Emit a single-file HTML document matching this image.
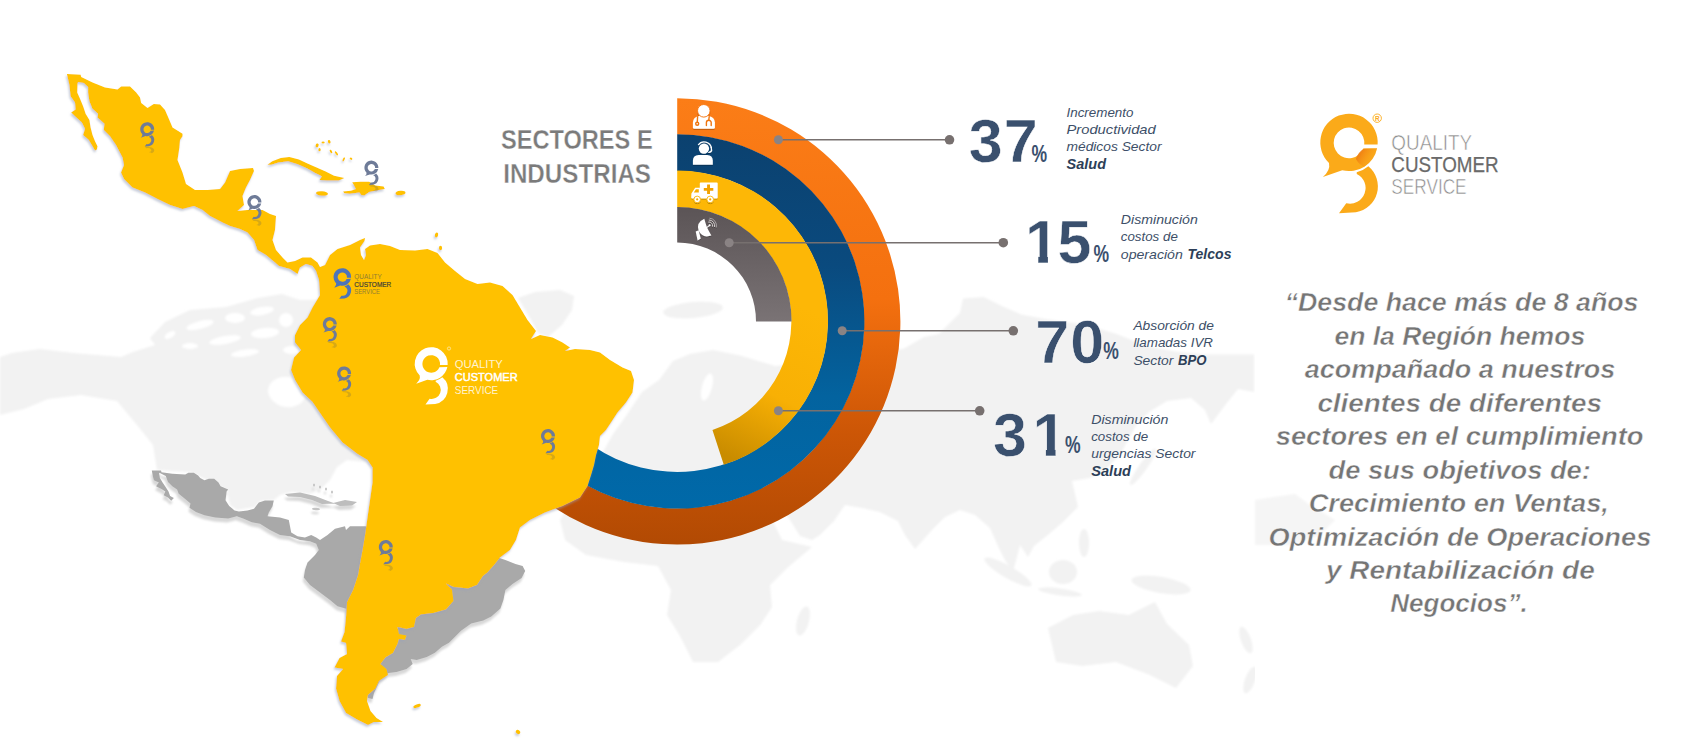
<!DOCTYPE html>
<html lang="es"><head><meta charset="utf-8"><title>Sectores e Industrias - Quality Customer Service</title>
<style>html,body{margin:0;padding:0;background:#fff;}body{width:1683px;height:744px;overflow:hidden;}svg{display:block;font-family:"Liberation Sans",sans-serif;}</style></head><body>
<svg width="1683" height="744" viewBox="0 0 1683 744">
<defs>
<linearGradient id="gOrange" x1="0" y1="98" x2="0" y2="545" gradientUnits="userSpaceOnUse">
<stop offset="0" stop-color="#fb7d17"/><stop offset="0.45" stop-color="#f4700f"/><stop offset="0.75" stop-color="#cc5606"/><stop offset="1" stop-color="#b24a03"/></linearGradient>
<linearGradient id="gBlue" x1="0" y1="135" x2="0" y2="508" gradientUnits="userSpaceOnUse">
<stop offset="0" stop-color="#0b416f"/><stop offset="0.35" stop-color="#0a4a7e"/><stop offset="0.7" stop-color="#03639f"/><stop offset="1" stop-color="#0069a9"/></linearGradient>
<linearGradient id="gYellow" x1="790" y1="300" x2="715" y2="450" gradientUnits="userSpaceOnUse">
<stop offset="0" stop-color="#fdb706"/><stop offset="0.55" stop-color="#f8b004"/><stop offset="1" stop-color="#c98c00"/></linearGradient>
<linearGradient id="gGray" x1="0" y1="207" x2="0" y2="322" gradientUnits="userSpaceOnUse">
<stop offset="0" stop-color="#5b5456"/><stop offset="1" stop-color="#7a7375"/></linearGradient>
<linearGradient id="gDark" x1="300" y1="300" x2="400" y2="360" gradientUnits="userSpaceOnUse">
<stop offset="0" stop-color="#ef7d12"/><stop offset="1" stop-color="#f9a51a" stop-opacity="0"/></linearGradient>
<filter id="fShadow" x="-5%" y="-5%" width="110%" height="110%"><feGaussianBlur in="SourceAlpha" stdDeviation="0.8"/><feOffset dx="-1.5" dy="2" result="o"/>
<feFlood flood-color="#98a2bb" flood-opacity="0.55"/><feComposite in2="o" operator="in"/><feMerge><feMergeNode/><feMergeNode in="SourceGraphic"/></feMerge></filter>
<filter id="fShadowG" x="-5%" y="-5%" width="110%" height="120%"><feGaussianBlur in="SourceAlpha" stdDeviation="1"/><feOffset dx="-1.5" dy="4" result="o"/>
<feFlood flood-color="#d8d8d8" flood-opacity="1"/><feComposite in2="o" operator="in"/><feMerge><feMergeNode/><feMergeNode in="SourceGraphic"/></feMerge></filter>
<filter id="fBlurS" x="-50%" y="-50%" width="200%" height="200%"><feGaussianBlur stdDeviation="6"/></filter>
<filter id="fBlur"><feGaussianBlur stdDeviation="1.2"/></filter>
<filter id="fIcon" x="-20%" y="-20%" width="140%" height="150%"><feGaussianBlur in="SourceAlpha" stdDeviation="0.6"/><feOffset dx="0" dy="1" result="o"/>
<feFlood flood-color="#000" flood-opacity="0.28"/><feComposite in2="o" operator="in"/><feMerge><feMergeNode/><feMergeNode in="SourceGraphic"/></feMerge></filter>
</defs>
<rect width="1683" height="744" fill="#ffffff"/>
<g fill="#f2f2f2" filter="url(#fBlur)"><path d="M0.0 357.0 L12.0 353.0 L40.0 349.0 L73.0 353.0 L121.0 357.0 L133.0 352.0 L155.0 345.0 L150.0 338.0 L165.0 322.0 L190.0 310.0 L226.0 307.0 L258.0 298.0 L282.0 294.0 L300.0 300.0 L340.0 300.0 L372.0 330.0 L372.0 467.0 L365.0 462.0 L347.0 460.0 L337.0 467.0 L330.0 480.0 L320.0 490.0 L310.0 494.0 L292.0 492.0 L280.0 495.0 L274.0 500.0 L260.0 501.0 L255.0 507.0 L237.0 510.0 L230.0 505.0 L227.0 490.0 L205.0 479.0 L190.0 472.0 L157.0 470.0 L153.0 445.0 L137.0 425.0 L117.0 401.0 L81.0 395.0 L48.0 399.0 L24.0 409.0 L0.0 415.0 Z M518.0 298.0 L535.0 292.0 L560.0 290.0 L574.0 296.0 L572.0 310.0 L562.0 325.0 L548.0 337.0 L538.0 333.0 L530.0 318.0 Z M598.0 472.0 L603.0 452.0 L613.0 434.0 L626.0 416.0 L642.0 392.0 L659.0 380.0 L673.0 361.0 L690.0 354.0 L713.0 350.0 L742.0 356.0 L775.0 366.0 L840.0 360.0 L903.7 348.7 L924.0 337.0 L939.0 334.0 L960.0 313.0 L963.0 298.4 L983.5 297.0 L1004.0 307.0 L1022.0 314.7 L1045.6 319.0 L1087.0 325.0 L1116.5 334.0 L1146.0 345.7 L1175.6 351.6 L1205.0 354.6 L1254.0 354.6 L1254.0 392.0 L1238.0 389.0 L1226.0 404.0 L1211.0 424.0 L1205.0 410.0 L1191.0 398.0 L1167.0 401.0 L1149.0 412.0 L1137.0 424.0 L1128.0 440.0 L1120.0 455.0 L1105.0 470.0 L1090.0 478.0 L1072.0 481.0 L1078.0 507.0 L1063.0 522.0 L1049.0 534.0 L1034.0 546.0 L1028.0 557.0 L1020.0 545.0 L1013.0 572.0 L1005.0 560.0 L998.0 546.0 L990.0 528.0 L975.0 515.0 L960.0 510.0 L945.0 517.0 L932.0 530.0 L915.0 549.0 L905.0 535.0 L898.0 521.0 L880.0 512.0 L862.0 508.0 L845.0 505.0 L838.0 515.0 L834.0 521.0 L820.0 535.0 L812.0 540.0 L800.0 536.0 L790.0 520.0 L782.0 508.0 L760.0 500.0 L735.0 495.0 L700.0 490.0 L680.0 480.0 L660.0 470.0 L640.0 475.0 L615.0 478.0 Z M640.0 475.0 L680.0 480.0 L720.0 492.0 L765.0 505.0 L782.0 540.0 L812.0 547.0 L787.0 568.0 L770.0 585.0 L772.0 607.0 L761.0 624.0 L740.0 645.0 L718.0 662.0 L693.0 662.0 L680.0 636.0 L667.0 615.0 L671.0 590.0 L658.0 566.0 L624.0 562.0 L586.0 555.0 L565.0 540.0 L560.0 520.0 L575.0 495.0 L605.0 480.0 Z M1048.0 628.0 L1073.0 615.0 L1099.0 611.0 L1129.0 615.0 L1155.0 602.0 L1167.0 624.0 L1189.0 645.0 L1193.0 666.0 L1176.0 688.0 L1150.0 675.0 L1116.0 662.0 L1082.0 666.0 L1056.0 662.0 L1052.0 645.0 Z"/><ellipse cx="803.0" cy="621.0" rx="6.0" ry="15.0" transform="rotate(15.0 803.0 621.0)"/><ellipse cx="1008.0" cy="572.0" rx="27.0" ry="6.0" transform="rotate(30.0 1008.0 572.0)"/><ellipse cx="1063.0" cy="572.0" rx="14.0" ry="12.0" transform="rotate(0.0 1063.0 572.0)"/><ellipse cx="1060.0" cy="592.0" rx="22.0" ry="3.5" transform="rotate(8.0 1060.0 592.0)"/><ellipse cx="1161.0" cy="585.0" rx="30.0" ry="8.0" transform="rotate(10.0 1161.0 585.0)"/><ellipse cx="1084.0" cy="543.0" rx="5.0" ry="14.0" transform="rotate(0.0 1084.0 543.0)"/><ellipse cx="1143.0" cy="467.0" rx="4.0" ry="22.0" transform="rotate(35.0 1143.0 467.0)"/><ellipse cx="1246.0" cy="640.0" rx="5.0" ry="14.0" transform="rotate(-20.0 1246.0 640.0)"/><ellipse cx="1250.0" cy="680.0" rx="5.0" ry="14.0" transform="rotate(20.0 1250.0 680.0)"/><ellipse cx="693.0" cy="310.0" rx="30.0" ry="8.0" transform="rotate(-5.0 693.0 310.0)"/><g fill="#fff"><ellipse cx="707.0" cy="387.0" rx="5.0" ry="14.0" transform="rotate(15.0 707.0 387.0)"/><ellipse cx="287.0" cy="392.0" rx="19.0" ry="15.0" transform="rotate(10.0 287.0 392.0)"/><ellipse cx="200.0" cy="325.0" rx="14.0" ry="4.0" transform="rotate(-15.0 200.0 325.0)"/><ellipse cx="235.0" cy="318.0" rx="10.0" ry="5.0" transform="rotate(0.0 235.0 318.0)"/><ellipse cx="262.0" cy="311.0" rx="12.0" ry="4.0" transform="rotate(-10.0 262.0 311.0)"/><ellipse cx="225.0" cy="340.0" rx="16.0" ry="4.0" transform="rotate(-10.0 225.0 340.0)"/><ellipse cx="265.0" cy="333.0" rx="14.0" ry="5.0" transform="rotate(-5.0 265.0 333.0)"/><ellipse cx="190.0" cy="346.0" rx="8.0" ry="3.0" transform="rotate(0.0 190.0 346.0)"/><ellipse cx="286.0" cy="320.0" rx="7.0" ry="7.0" transform="rotate(0.0 286.0 320.0)"/><ellipse cx="245.0" cy="353.0" rx="14.0" ry="3.5" transform="rotate(-8.0 245.0 353.0)"/><ellipse cx="292.0" cy="350.0" rx="9.0" ry="4.0" transform="rotate(0.0 292.0 350.0)"/><ellipse cx="170.0" cy="335.0" rx="6.0" ry="3.0" transform="rotate(-30.0 170.0 335.0)"/></g></g>
<rect x="1255" y="0" width="428" height="744" fill="#ffffff"/>
<path d="M1255 500 L1295 494 L1310 505 L1335 520 L1320 535 L1290 545 L1255 545 Z" fill="#f5f5f5" filter="url(#fBlur)"/>
<g filter="url(#fShadowG)"><path d="M151.8 470.6 L161.0 470.6 L161.5 472.2 L172.3 473.8 L185.2 474.4 L188.4 472.7 L193.8 472.7 L198.1 475.4 L200.2 478.1 L204.5 480.3 L208.8 478.7 L214.2 478.7 L218.5 482.4 L220.6 486.2 L228.2 489.4 L226.6 491.6 L225.5 500.2 L229.2 506.1 L234.6 510.4 L238.9 511.5 L247.5 510.4 L254.0 508.8 L258.8 502.5 L265.0 500.5 L273.8 500.5 L272.5 506.2 L268.8 512.5 L267.5 516.2 L280.0 517.5 L288.8 520.0 L290.0 526.2 L291.2 532.5 L297.5 536.2 L305.0 537.5 L311.2 535.0 L316.2 537.5 L320.0 540.0 L327.5 535.0 L335.0 528.8 L345.0 526.2 L346.0 530.0 L350.0 526.2 L365.0 526.2 L380.0 528.0 L499.4 558.0 L505.4 560.0 L515.5 564.0 L522.6 566.0 L525.2 571.0 L521.6 578.0 L512.5 584.0 L505.4 590.0 L503.4 600.0 L500.4 608.5 L491.3 616.5 L483.3 620.6 L471.2 623.6 L461.0 630.7 L455.0 636.7 L449.0 642.8 L441.9 646.8 L434.9 652.8 L426.8 656.9 L416.7 659.9 L410.7 658.9 L412.7 663.9 L406.6 669.0 L396.5 672.0 L388.5 673.0 L380.0 680.0 L374.0 693.0 L372.5 699.0 L368.0 698.0 L360.0 660.0 L350.0 640.0 L346.2 608.8 L337.5 606.2 L330.0 600.0 L320.0 592.5 L310.0 585.0 L303.8 577.5 L305.0 570.0 L307.5 562.5 L315.0 555.0 L318.8 550.0 L316.2 543.8 L310.0 541.2 L300.0 540.0 L290.0 536.2 L280.0 535.0 L270.0 530.0 L260.0 523.8 L251.8 522.2 L243.2 518.4 L236.8 516.3 L228.2 518.4 L215.3 517.4 L204.5 515.2 L195.9 512.0 L189.5 507.7 L190.5 503.4 L185.2 499.1 L178.7 493.7 L177.1 489.4 L172.3 486.2 L168.0 481.9 L165.8 476.0 L159.4 472.7 L159.1 473.8 L159.9 478.1 L162.6 482.4 L165.8 487.3 L168.5 491.6 L170.1 495.9 L173.9 498.0 L171.2 500.7 L168.0 497.5 L163.7 495.3 L165.3 491.6 L161.5 488.9 L156.1 486.2 L158.8 482.4 L154.0 480.3 L152.9 476.5 Z" fill="#a9a9a9"/><path d="M285.0 494.0 L300.0 492.5 L315.0 496.0 L328.0 501.0 L335.0 503.5 L322.0 504.0 L312.0 500.0 L300.0 497.0 L288.0 496.5 Z M333.0 503.0 L345.0 500.0 L357.0 502.0 L352.0 505.5 L340.0 506.0 Z" fill="#bdbdbd"/><g fill="#c4c4c4"><ellipse cx="316.0" cy="509.0" rx="4.0" ry="1.2" transform="rotate(5.0 316.0 509.0)"/><ellipse cx="314.0" cy="485.0" rx="1.0" ry="1.5" transform="rotate(0.0 314.0 485.0)"/><ellipse cx="320.0" cy="487.0" rx="1.0" ry="1.5" transform="rotate(0.0 320.0 487.0)"/><ellipse cx="326.0" cy="489.0" rx="1.0" ry="1.5" transform="rotate(0.0 326.0 489.0)"/><ellipse cx="332.0" cy="492.0" rx="1.0" ry="1.5" transform="rotate(0.0 332.0 492.0)"/></g></g>
<path d="M677.20 98.20 A223.20 223.20 0 1 1 474.91 415.73 L507.81 400.39 A186.90 186.90 0 1 0 677.20 134.50 Z" fill="url(#gOrange)"/>
<path d="M677.20 134.20 A187.20 187.20 0 1 1 507.54 400.51 L540.80 385.00 A150.50 150.50 0 1 0 677.20 170.90 Z" fill="url(#gBlue)"/>
<path d="M677.20 170.60 A150.80 150.80 0 0 1 723.80 464.82 L712.46 429.92 A114.10 114.10 0 0 0 677.20 207.30 Z" fill="url(#gYellow)"/>
<path d="M677.20 207.00 A114.40 114.40 0 0 1 791.60 321.40 L756.00 321.40 A78.80 78.80 0 0 0 677.20 242.60 Z" fill="url(#gGray)"/>
<g fill="#ffc100" filter="url(#fShadow)"><path d="M66.9 74.0 L80.6 74.8 L81.2 76.9 L92.5 82.5 L105.0 87.5 L117.5 89.4 L121.2 86.5 L130.0 86.5 L136.2 92.5 L140.0 97.5 L141.2 103.0 L147.5 108.0 L153.8 104.0 L160.0 104.4 L165.0 110.0 L168.8 118.8 L172.5 127.5 L182.5 133.8 L182.5 136.2 L180.0 140.0 L179.4 147.5 L177.5 160.0 L182.5 172.5 L186.0 184.0 L195.0 190.0 L207.5 190.0 L220.0 189.0 L225.0 182.5 L230.0 171.0 L240.0 169.0 L253.0 168.0 L254.0 171.0 L250.0 180.0 L246.0 187.5 L242.5 196.0 L244.0 205.0 L237.5 211.0 L247.5 210.0 L262.5 210.0 L270.0 214.0 L276.0 216.0 L275.0 230.0 L272.5 240.0 L276.0 250.0 L282.5 257.5 L287.5 262.5 L295.0 261.0 L302.5 257.5 L311.0 257.5 L317.5 262.5 L320.0 267.0 L325.0 265.0 L330.0 255.0 L337.5 249.0 L350.0 245.0 L360.0 240.0 L365.0 238.0 L364.5 241.0 L360.0 247.5 L361.0 255.0 L364.0 260.0 L366.0 255.0 L365.0 249.0 L370.0 245.5 L380.0 244.0 L390.0 246.0 L400.0 250.0 L415.0 250.5 L427.5 249.0 L437.5 253.0 L445.0 262.5 L455.0 271.0 L465.0 279.0 L477.5 284.0 L490.0 282.5 L502.5 286.0 L512.5 295.0 L520.0 307.5 L527.5 320.0 L536.0 331.0 L531.0 339.0 L540.0 335.0 L552.5 337.5 L562.5 342.5 L570.0 347.5 L565.0 351.0 L575.0 349.0 L590.0 350.0 L600.0 352.5 L610.0 360.0 L622.5 367.5 L631.0 371.0 L634.0 380.0 L632.5 392.5 L626.0 402.5 L617.5 412.5 L611.0 422.5 L606.0 430.0 L600.0 436.0 L599.0 445.0 L596.0 455.0 L594.0 465.0 L591.0 475.0 L587.5 486.0 L580.0 497.5 L562.5 506.0 L545.0 512.5 L530.0 520.0 L520.0 527.5 L516.0 540.0 L510.0 550.0 L500.0 557.5 L495.0 564.0 L487.5 572.5 L483.0 576.0 L477.0 585.0 L468.0 588.5 L453.5 587.0 L446.0 583.5 L452.0 589.5 L453.5 601.0 L446.0 609.5 L433.5 613.0 L421.0 614.5 L416.0 618.0 L414.0 627.0 L406.5 629.0 L397.5 627.0 L399.0 634.0 L406.5 635.5 L405.0 640.0 L399.0 639.0 L397.5 644.0 L393.0 653.0 L385.5 657.5 L380.5 664.0 L386.5 669.0 L388.0 675.0 L379.0 681.0 L375.5 688.5 L368.0 695.0 L367.0 701.0 L370.5 711.0 L376.5 718.0 L383.0 722.0 L374.0 722.0 L368.0 725.0 L357.0 719.5 L346.0 713.0 L339.5 701.0 L336.0 688.5 L337.0 676.0 L343.0 669.0 L334.5 667.5 L339.5 658.0 L347.0 654.0 L346.0 643.0 L341.0 641.5 L344.5 632.0 L346.0 617.0 L347.0 602.0 L353.0 590.0 L358.0 575.0 L360.6 560.0 L362.5 550.0 L365.0 535.0 L367.5 517.5 L370.0 500.0 L372.5 482.5 L372.5 467.5 L367.5 460.0 L357.5 454.0 L342.5 442.5 L330.0 427.5 L320.0 413.0 L312.5 402.0 L302.5 392.5 L295.0 380.0 L291.0 370.0 L294.0 357.5 L301.0 350.0 L295.0 342.5 L295.0 335.0 L300.0 325.0 L307.5 317.5 L312.5 307.5 L320.0 295.0 L319.0 280.0 L316.0 271.0 L312.5 266.0 L306.0 264.0 L300.0 267.5 L297.5 274.0 L290.0 269.0 L279.0 266.0 L275.0 262.5 L266.0 255.0 L257.5 250.0 L254.0 240.0 L247.5 232.5 L240.0 229.0 L230.0 226.0 L222.5 222.5 L210.0 216.0 L202.5 210.0 L194.0 206.0 L182.5 209.0 L170.0 205.0 L157.5 199.0 L145.0 192.5 L132.5 187.5 L124.0 179.0 L121.0 172.5 L124.0 165.0 L122.5 157.5 L116.0 145.0 L110.0 136.2 L103.8 130.0 L104.4 123.8 L97.5 117.5 L98.1 113.8 L92.5 108.8 L89.4 101.2 L88.1 92.5 L88.1 86.9 L83.8 83.1 L78.1 81.9 L77.5 83.8 L77.2 92.5 L80.0 98.8 L83.1 106.2 L85.6 113.8 L89.4 120.0 L90.6 127.5 L92.5 135.0 L95.0 141.2 L97.5 146.2 L96.9 149.4 L95.0 150.6 L92.5 146.2 L88.8 140.0 L83.1 135.0 L85.0 128.8 L81.9 122.5 L75.0 116.2 L71.2 112.5 L75.6 109.4 L75.0 102.5 L70.6 96.2 L69.4 85.0 Z M267.5 164.8 L272.3 161.2 L280.8 158.1 L289.3 156.9 L298.9 159.4 L307.4 163.6 L317.1 167.8 L325.6 171.5 L334.0 175.7 L344.3 178.1 L338.9 180.5 L326.8 180.5 L319.5 179.9 L321.9 176.3 L314.7 172.7 L307.4 168.4 L297.7 164.2 L288.1 161.2 L278.4 162.4 L271.1 164.8 Z M343.1 191.4 L351.0 190.8 L355.8 189.0 L353.4 184.2 L352.2 182.3 L360.6 181.7 L369.1 181.7 L375.2 185.4 L383.6 186.6 L384.8 189.0 L377.6 190.2 L369.1 192.0 L364.3 195.6 L361.2 195.0 L359.4 192.6 L349.8 193.8 L344.3 193.2 Z"/><ellipse cx="322.0" cy="193.5" rx="6.0" ry="2.2" transform="rotate(5.0 322.0 193.5)"/><ellipse cx="400.5" cy="193.0" rx="5.0" ry="2.2" transform="rotate(-5.0 400.5 193.0)"/><ellipse cx="436.5" cy="235.0" rx="1.6" ry="2.5" transform="rotate(15.0 436.5 235.0)"/><ellipse cx="440.5" cy="248.0" rx="1.6" ry="2.2" transform="rotate(0.0 440.5 248.0)"/><ellipse cx="317.1" cy="145.4" rx="1.5" ry="2.0" transform="rotate(20.0 317.1 145.4)"/><ellipse cx="319.5" cy="149.7" rx="1.2" ry="1.6" transform="rotate(0.0 319.5 149.7)"/><ellipse cx="323.1" cy="142.4" rx="1.6" ry="1.0" transform="rotate(0.0 323.1 142.4)"/><ellipse cx="329.2" cy="141.8" rx="1.3" ry="1.8" transform="rotate(-20.0 329.2 141.8)"/><ellipse cx="331.0" cy="151.5" rx="1.0" ry="2.0" transform="rotate(-30.0 331.0 151.5)"/><ellipse cx="336.4" cy="153.3" rx="1.0" ry="2.4" transform="rotate(-35.0 336.4 153.3)"/><ellipse cx="343.7" cy="159.4" rx="0.9" ry="2.2" transform="rotate(25.0 343.7 159.4)"/><ellipse cx="351.0" cy="158.7" rx="1.4" ry="1.0" transform="rotate(30.0 351.0 158.7)"/><ellipse cx="417.0" cy="706.0" rx="4.0" ry="1.6" transform="rotate(-20.0 417.0 706.0)"/><ellipse cx="518.0" cy="732.0" rx="2.5" ry="2.0" transform="rotate(40.0 518.0 732.0)"/></g>
<!--MARKERS-->
<g transform="translate(137.68 161.34) scale(0.03933 -0.02163)" fill="#7d7346" opacity="0.3" filter="url(#fBlurS)"><path d="M290 417 A190 190 0 0 0 362 379.4 A163 163 0 0 1 285 665.7 L180 672 L225 609.2 A97 97 0 0 0 290 427.6 Z"/></g><g transform="translate(137.68 120.08) scale(0.03933)" fill="#6e7b98" opacity="1"><path d="M419.5 245 A178 178 0 1 0 118 360 Q128 405 80 447 L200 405 A178 178 0 0 0 416.3 268 L330.3 270 A95 95 0 1 1 336.5 245 Z"/><path d="M290 417 A190 190 0 0 0 362 379.4 A163 163 0 0 1 285 665.7 L180 672 L225 609.2 A97 97 0 0 0 290 427.6 Z"/></g>
<g transform="translate(361.88 199.74) scale(0.03933 -0.02163)" fill="#7d7346" opacity="0.3" filter="url(#fBlurS)"><path d="M290 417 A190 190 0 0 0 362 379.4 A163 163 0 0 1 285 665.7 L180 672 L225 609.2 A97 97 0 0 0 290 427.6 Z"/></g><g transform="translate(361.88 158.48) scale(0.03933)" fill="#6e7b98" opacity="1"><path d="M419.5 245 A178 178 0 1 0 118 360 Q128 405 80 447 L200 405 A178 178 0 0 0 416.3 268 L330.3 270 A95 95 0 1 1 336.5 245 Z"/><path d="M290 417 A190 190 0 0 0 362 379.4 A163 163 0 0 1 285 665.7 L180 672 L225 609.2 A97 97 0 0 0 290 427.6 Z"/></g>
<g transform="translate(244.88 234.14) scale(0.03933 -0.02163)" fill="#7d7346" opacity="0.3" filter="url(#fBlurS)"><path d="M290 417 A190 190 0 0 0 362 379.4 A163 163 0 0 1 285 665.7 L180 672 L225 609.2 A97 97 0 0 0 290 427.6 Z"/></g><g transform="translate(244.88 192.88) scale(0.03933)" fill="#6e7b98" opacity="1"><path d="M419.5 245 A178 178 0 1 0 118 360 Q128 405 80 447 L200 405 A178 178 0 0 0 416.3 268 L330.3 270 A95 95 0 1 1 336.5 245 Z"/><path d="M290 417 A190 190 0 0 0 362 379.4 A163 163 0 0 1 285 665.7 L180 672 L225 609.2 A97 97 0 0 0 290 427.6 Z"/></g>
<g transform="translate(320.28 356.24) scale(0.03933 -0.02163)" fill="#7d7346" opacity="0.3" filter="url(#fBlurS)"><path d="M290 417 A190 190 0 0 0 362 379.4 A163 163 0 0 1 285 665.7 L180 672 L225 609.2 A97 97 0 0 0 290 427.6 Z"/></g><g transform="translate(320.28 314.98) scale(0.03933)" fill="#6e7b98" opacity="1"><path d="M419.5 245 A178 178 0 1 0 118 360 Q128 405 80 447 L200 405 A178 178 0 0 0 416.3 268 L330.3 270 A95 95 0 1 1 336.5 245 Z"/><path d="M290 417 A190 190 0 0 0 362 379.4 A163 163 0 0 1 285 665.7 L180 672 L225 609.2 A97 97 0 0 0 290 427.6 Z"/></g>
<g transform="translate(334.58 405.54) scale(0.03933 -0.02163)" fill="#7d7346" opacity="0.3" filter="url(#fBlurS)"><path d="M290 417 A190 190 0 0 0 362 379.4 A163 163 0 0 1 285 665.7 L180 672 L225 609.2 A97 97 0 0 0 290 427.6 Z"/></g><g transform="translate(334.58 364.28) scale(0.03933)" fill="#6e7b98" opacity="1"><path d="M419.5 245 A178 178 0 1 0 118 360 Q128 405 80 447 L200 405 A178 178 0 0 0 416.3 268 L330.3 270 A95 95 0 1 1 336.5 245 Z"/><path d="M290 417 A190 190 0 0 0 362 379.4 A163 163 0 0 1 285 665.7 L180 672 L225 609.2 A97 97 0 0 0 290 427.6 Z"/></g>
<g transform="translate(538.48 468.14) scale(0.03933 -0.02163)" fill="#7d7346" opacity="0.3" filter="url(#fBlurS)"><path d="M290 417 A190 190 0 0 0 362 379.4 A163 163 0 0 1 285 665.7 L180 672 L225 609.2 A97 97 0 0 0 290 427.6 Z"/></g><g transform="translate(538.48 426.88) scale(0.03933)" fill="#6e7b98" opacity="1"><path d="M419.5 245 A178 178 0 1 0 118 360 Q128 405 80 447 L200 405 A178 178 0 0 0 416.3 268 L330.3 270 A95 95 0 1 1 336.5 245 Z"/><path d="M290 417 A190 190 0 0 0 362 379.4 A163 163 0 0 1 285 665.7 L180 672 L225 609.2 A97 97 0 0 0 290 427.6 Z"/></g>
<g transform="translate(376.28 579.14) scale(0.03933 -0.02163)" fill="#7d7346" opacity="0.3" filter="url(#fBlurS)"><path d="M290 417 A190 190 0 0 0 362 379.4 A163 163 0 0 1 285 665.7 L180 672 L225 609.2 A97 97 0 0 0 290 427.6 Z"/></g><g transform="translate(376.28 537.88) scale(0.03933)" fill="#6e7b98" opacity="1"><path d="M419.5 245 A178 178 0 1 0 118 360 Q128 405 80 447 L200 405 A178 178 0 0 0 416.3 268 L330.3 270 A95 95 0 1 1 336.5 245 Z"/><path d="M290 417 A190 190 0 0 0 362 379.4 A163 163 0 0 1 285 665.7 L180 672 L225 609.2 A97 97 0 0 0 290 427.6 Z"/></g>
<g transform="translate(330.34 265.53) scale(0.04944)" fill="#4d74b9" opacity="1"><path d="M419.5 245 A178 178 0 1 0 118 360 Q128 405 80 447 L200 405 A178 178 0 0 0 416.3 268 L330.3 270 A95 95 0 1 1 336.5 245 Z"/><path d="M290 417 A190 190 0 0 0 362 379.4 A163 163 0 0 1 285 665.7 L180 672 L225 609.2 A97 97 0 0 0 290 427.6 Z"/></g>
<g><text x="354.3" y="279.2" font-size="7.6" fill="#8f7d33" font-weight="normal" font-style="normal" text-anchor="start" textLength="27.4" lengthAdjust="spacingAndGlyphs" >QUALITY</text><text x="354.3" y="286.6" font-size="7.6" fill="#403f38" font-weight="normal" font-style="normal" text-anchor="start" textLength="37.0" lengthAdjust="spacingAndGlyphs" stroke="#403f38" stroke-width="0.2">CUSTOMER</text><text x="354.3" y="293.9" font-size="7.6" fill="#8f7d33" font-weight="normal" font-style="normal" text-anchor="start" textLength="25.6" lengthAdjust="spacingAndGlyphs" >SERVICE</text></g>
<g transform="translate(408.77 342.19) scale(0.09270)" fill="#ffffff" opacity="1"><path d="M419.5 245 A178 178 0 1 0 118 360 Q128 405 80 447 L200 405 A178 178 0 0 0 416.3 268 L330.3 270 A95 95 0 1 1 336.5 245 Z"/><path d="M290 417 A190 190 0 0 0 362 379.4 A163 163 0 0 1 285 665.7 L180 672 L225 609.2 A97 97 0 0 0 290 427.6 Z"/></g>
<g><text x="454.8" y="367.7" font-size="11.6" fill="#fff3cf" font-weight="normal" font-style="normal" text-anchor="start" textLength="48.0" lengthAdjust="spacingAndGlyphs" >QUALITY</text><text x="454.8" y="381.4" font-size="11.6" fill="#ffffff" font-weight="normal" font-style="normal" text-anchor="start" textLength="62.8" lengthAdjust="spacingAndGlyphs" stroke="#fff" stroke-width="0.5">CUSTOMER</text><text x="454.8" y="393.9" font-size="11.6" fill="#fff3cf" font-weight="normal" font-style="normal" text-anchor="start" textLength="43.4" lengthAdjust="spacingAndGlyphs" >SERVICE</text></g>
<circle cx="449" cy="348.5" r="1.6" fill="none" stroke="#fff" stroke-width="0.5"/>
<g fill="#7b7b7b" font-weight="bold"><text x="500.9" y="149.0" font-size="28.2" fill="#7b7b7b" font-weight="bold" font-style="normal" text-anchor="start" textLength="151.8" lengthAdjust="spacingAndGlyphs" stroke="#fff" stroke-width="0.35">SECTORES E</text><text x="503.2" y="182.8" font-size="28.2" fill="#7b7b7b" font-weight="bold" font-style="normal" text-anchor="start" textLength="147.8" lengthAdjust="spacingAndGlyphs" stroke="#fff" stroke-width="0.35">INDUSTRIAS</text></g>
<line x1="778.4" y1="139.8" x2="949.5" y2="139.8" stroke="#77706f" stroke-width="1.6"/><circle cx="778.4" cy="139.8" r="4.5" fill="#8a8384"/><circle cx="949.5" cy="139.8" r="4.8" fill="#77706f"/>
<line x1="729.2" y1="242.7" x2="1003.3" y2="242.7" stroke="#77706f" stroke-width="1.6"/><circle cx="729.2" cy="242.7" r="4.5" fill="#8a8384"/><circle cx="1003.3" cy="242.7" r="4.8" fill="#77706f"/>
<line x1="842.2" y1="330.8" x2="1013.3" y2="330.8" stroke="#77706f" stroke-width="1.6"/><circle cx="842.2" cy="330.8" r="4.5" fill="#8a8384"/><circle cx="1013.3" cy="330.8" r="4.8" fill="#77706f"/>
<line x1="778.4" y1="410.8" x2="979.7" y2="410.8" stroke="#77706f" stroke-width="1.6"/><circle cx="778.4" cy="410.8" r="4.5" fill="#8a8384"/><circle cx="979.7" cy="410.8" r="4.8" fill="#77706f"/>
<text x="985.6" y="162.0" font-size="61" fill="#3a506e" font-weight="bold" font-style="normal" text-anchor="middle" stroke="#fff" stroke-width="0.5">3</text><text x="1020.7" y="162.0" font-size="61" fill="#3a506e" font-weight="bold" font-style="normal" text-anchor="middle" stroke="#fff" stroke-width="0.5">7</text>
<text x="1031.6" y="162.0" font-size="24.5" fill="#3a506e" font-weight="bold" font-style="normal" text-anchor="start" textLength="15.6" lengthAdjust="spacingAndGlyphs" >%</text>
<clipPath id="cOne1"><rect x="1027.4" y="211.3" width="21" height="43.9"/><rect x="1038.3" y="254.7" width="9.6" height="10"/></clipPath><g clip-path="url(#cOne1)"><text x="1041.9" y="263.3" font-size="61" fill="#3a506e" font-weight="bold" font-style="normal" text-anchor="middle" stroke="#fff" stroke-width="0.5">1</text></g><text x="1074.5" y="263.3" font-size="61" fill="#3a506e" font-weight="bold" font-style="normal" text-anchor="middle" stroke="#fff" stroke-width="0.5">5</text>
<text x="1093.4" y="262.2" font-size="24.5" fill="#3a506e" font-weight="bold" font-style="normal" text-anchor="start" textLength="15.6" lengthAdjust="spacingAndGlyphs" >%</text>
<text x="1052.3" y="362.6" font-size="61" fill="#3a506e" font-weight="bold" font-style="normal" text-anchor="middle" stroke="#fff" stroke-width="0.5">7</text><text x="1087.2" y="362.6" font-size="61" fill="#3a506e" font-weight="bold" font-style="normal" text-anchor="middle" stroke="#fff" stroke-width="0.5">0</text>
<text x="1103.3" y="359.2" font-size="24.5" fill="#3a506e" font-weight="bold" font-style="normal" text-anchor="start" textLength="15.6" lengthAdjust="spacingAndGlyphs" >%</text>
<text x="1009.9" y="456.0" font-size="61" fill="#3a506e" font-weight="bold" font-style="normal" text-anchor="middle" stroke="#fff" stroke-width="0.5">3</text><clipPath id="cOne2"><rect x="1035.0" y="404.0" width="21" height="43.9"/><rect x="1045.9" y="447.4" width="9.6" height="10"/></clipPath><g clip-path="url(#cOne2)"><text x="1049.5" y="456.0" font-size="61" fill="#3a506e" font-weight="bold" font-style="normal" text-anchor="middle" stroke="#fff" stroke-width="0.5">1</text></g>
<text x="1064.9" y="452.8" font-size="24.5" fill="#3a506e" font-weight="bold" font-style="normal" text-anchor="start" textLength="15.6" lengthAdjust="spacingAndGlyphs" >%</text>
<text x="1066.5" y="116.9" font-size="13.4" fill="#3d4f68" font-weight="normal" font-style="italic" text-anchor="start" textLength="67.0" lengthAdjust="spacingAndGlyphs" >Incremento</text>
<text x="1066.5" y="133.8" font-size="13.4" fill="#3d4f68" font-weight="normal" font-style="italic" text-anchor="start" textLength="89.2" lengthAdjust="spacingAndGlyphs" >Productividad</text>
<text x="1066.5" y="150.5" font-size="13.4" fill="#3d4f68" font-weight="normal" font-style="italic" text-anchor="start" textLength="95.0" lengthAdjust="spacingAndGlyphs" >médicos Sector</text>
<text x="1066.5" y="168.5" font-size="14.6" fill="#2d3f58" font-weight="bold" font-style="italic" text-anchor="start" textLength="39.5" lengthAdjust="spacingAndGlyphs" >Salud</text>
<text x="1120.8" y="223.6" font-size="13.4" fill="#3d4f68" font-weight="normal" font-style="italic" text-anchor="start" textLength="77.0" lengthAdjust="spacingAndGlyphs" >Disminución</text>
<text x="1120.8" y="240.5" font-size="13.4" fill="#3d4f68" font-weight="normal" font-style="italic" text-anchor="start" textLength="57.0" lengthAdjust="spacingAndGlyphs" >costos de</text>
<text x="1120.8" y="258.8" font-size="13.4" fill="#3d4f68" font-weight="normal" font-style="italic" text-anchor="start" textLength="62.0" lengthAdjust="spacingAndGlyphs" >operación</text>
<text x="1187.5" y="258.8" font-size="14.6" fill="#2d3f58" font-weight="bold" font-style="italic" text-anchor="start" textLength="44.0" lengthAdjust="spacingAndGlyphs" >Telcos</text>
<text x="1133.4" y="330.3" font-size="13.4" fill="#3d4f68" font-weight="normal" font-style="italic" text-anchor="start" textLength="80.6" lengthAdjust="spacingAndGlyphs" >Absorción de</text>
<text x="1133.4" y="347.0" font-size="13.4" fill="#3d4f68" font-weight="normal" font-style="italic" text-anchor="start" textLength="79.6" lengthAdjust="spacingAndGlyphs" >llamadas IVR</text>
<text x="1133.4" y="365.2" font-size="13.4" fill="#3d4f68" font-weight="normal" font-style="italic" text-anchor="start" textLength="40.0" lengthAdjust="spacingAndGlyphs" >Sector</text>
<text x="1178.0" y="365.2" font-size="14.6" fill="#2d3f58" font-weight="bold" font-style="italic" text-anchor="start" textLength="28.5" lengthAdjust="spacingAndGlyphs" >BPO</text>
<text x="1091.2" y="423.6" font-size="13.4" fill="#3d4f68" font-weight="normal" font-style="italic" text-anchor="start" textLength="77.2" lengthAdjust="spacingAndGlyphs" >Disminución</text>
<text x="1091.2" y="441.0" font-size="13.4" fill="#3d4f68" font-weight="normal" font-style="italic" text-anchor="start" textLength="57.0" lengthAdjust="spacingAndGlyphs" >costos de</text>
<text x="1091.2" y="458.0" font-size="13.4" fill="#3d4f68" font-weight="normal" font-style="italic" text-anchor="start" textLength="104.3" lengthAdjust="spacingAndGlyphs" >urgencias Sector</text>
<text x="1091.2" y="476.0" font-size="14.6" fill="#2d3f58" font-weight="bold" font-style="italic" text-anchor="start" textLength="39.8" lengthAdjust="spacingAndGlyphs" >Salud</text>

<g filter="url(#fIcon)">
<!-- doctor -->
<path d="M692.9 127.2 L692.9 122.6 Q693.2 116.6 699.2 115.9 L708.4 115.9 Q714.6 116.6 714.9 122.6 L714.9 127.2 Q714.9 128.7 713.4 128.7 L694.4 128.7 Q692.9 128.7 692.9 127.2 Z" fill="#fff"/>
<circle cx="703.8" cy="110.8" r="6.3" fill="#fff" stroke="#f97b16" stroke-width="1"/>
<g fill="none" stroke="#ee7410" stroke-width="1.4" stroke-linecap="round"><path d="M697.6 116.6 L697.3 121.8"/><circle cx="697.2" cy="123.7" r="1.5"/>
<path d="M706.4 125.6 L706.4 122.6 A2.4 2.4 0 0 1 711.2 122.6 L711.2 125.6"/><path d="M708.8 120.2 L709.2 116.6"/></g>
<!-- agent -->
<path d="M692.9 164.8 L692.9 160.6 Q693 155.2 698.6 155 L707.2 155 Q712.7 155.2 712.8 160.6 L712.8 164.8 Z" fill="#fff"/>
<circle cx="704" cy="148.6" r="5.2" fill="#fff"/>
<path d="M698.2 145.0 A7.3 7.3 0 0 1 711.4 148.2" fill="none" stroke="#fff" stroke-width="1.3"/>
<path d="M711.2 147.2 L711.6 150.6 Q710.6 152.6 706.4 152.4" fill="none" stroke="#fff" stroke-width="1.3" stroke-linecap="round"/>
<path d="M709.2 146.4 A5.4 5.4 0 0 1 706.2 153.6" fill="none" stroke="#0b4373" stroke-width="0.9"/>
<!-- ambulance -->
<path d="M700.6 182.4 L716.8 182.4 Q717.7 182.4 717.7 183.3 L717.7 197.6 Q717.7 198.6 716.7 198.6 L692.2 198.6 Q691.2 198.6 691.2 197.6 L691.4 193.4 L695.2 187.8 L699.8 187.8 L699.8 183.3 Q699.8 182.4 700.6 182.4 Z" fill="#fff"/>
<circle cx="697.2" cy="199.4" r="3.3" fill="#fff" stroke="#fcb505" stroke-width="0.9"/><circle cx="697.2" cy="199.4" r="1.1" fill="#f3ab00"/>
<circle cx="710.2" cy="199.4" r="3.3" fill="#fff" stroke="#fcb505" stroke-width="0.9"/><circle cx="710.2" cy="199.4" r="1.1" fill="#f3ab00"/>
<path d="M707.1 184.6 h2.9 v3.3 h3.3 v2.9 h-3.3 v3.3 h-2.9 v-3.3 h-3.3 v-2.9 h3.3 Z" fill="#f2a200"/>
<path d="M695.9 189.2 L698.8 189.2 L698.8 192.4 L693.8 192.4 Z" fill="#f7ae04"/>
<!-- satellite dish -->
<path d="M704.3 218.8 Q696.0 222.6 698.6 230.6 Q702.2 238.6 711.4 235.6 Q709.2 231.6 707.0 227.4 Q705.4 223.0 704.3 218.8 Z" fill="#fff"/>
<path d="M695.7 231.6 L698.6 230.2 L700.8 238.6 L697.6 240.6 Z" fill="#fff"/>
<path d="M706.6 227.6 L709.6 225.4" stroke="#fff" stroke-width="1.1" stroke-linecap="round"/><circle cx="709.6" cy="225.3" r="1" fill="#fff"/>
<g fill="none" stroke="#cfcaca" stroke-width="1" stroke-linecap="round"><path d="M708.6 222.0 A3.4 3.4 0 0 1 712.6 226.2"/><path d="M709.2 220.0 A5.4 5.4 0 0 1 714.6 226.6"/><path d="M709.8 218.2 A7.2 7.2 0 0 1 716.4 227.0" stroke="#a9a3a4"/></g>
</g>

<g transform="translate(1309.98 104.99) scale(0.16124)" fill="#fbaa19" opacity="1"><path d="M419.5 245 A178 178 0 1 0 118 360 Q128 405 80 447 L200 405 A178 178 0 0 0 416.3 268 L330.3 270 A95 95 0 1 1 336.5 245 Z"/><path d="M290 417 A190 190 0 0 0 362 379.4 A163 163 0 0 1 285 665.7 L180 672 L225 609.2 A97 97 0 0 0 290 427.6 Z"/><path d="M416.3 268 L335 271 Q300 290 285 335 Q310 380 340 381 A178 178 0 0 0 416.3 268 Z" fill="url(#gDark)"/></g>
<circle cx="1377.2" cy="118.2" r="4.2" fill="none" stroke="#fbaa19" stroke-width="0.9"/><text x="1377.2" y="120.6" font-size="6.4" fill="#fbaa19" font-weight="bold" font-style="normal" text-anchor="middle" >R</text>
<text x="1391.3" y="150.2" font-size="21.8" fill="#8c8c8c" font-weight="normal" font-style="normal" text-anchor="start" textLength="80.9" lengthAdjust="spacingAndGlyphs" stroke="#fff" stroke-width="0.55">QUALITY</text>
<text x="1391.3" y="172.3" font-size="21.8" fill="#6a6a6a" font-weight="normal" font-style="normal" text-anchor="start" textLength="107.3" lengthAdjust="spacingAndGlyphs" stroke="#6a6a6a" stroke-width="0.25">CUSTOMER</text>
<text x="1391.3" y="193.9" font-size="21.8" fill="#8c8c8c" font-weight="normal" font-style="normal" text-anchor="start" textLength="75.3" lengthAdjust="spacingAndGlyphs" stroke="#fff" stroke-width="0.55">SERVICE</text>
<text x="1284.7" y="311.2" font-size="25.4" fill="#757575" font-weight="bold" font-style="italic" text-anchor="start" textLength="353.8" lengthAdjust="spacingAndGlyphs" stroke="#fff" stroke-width="0.45">“Desde hace más de 8 años</text>
<text x="1334.4" y="344.6" font-size="25.4" fill="#757575" font-weight="bold" font-style="italic" text-anchor="start" textLength="250.8" lengthAdjust="spacingAndGlyphs" stroke="#fff" stroke-width="0.45">en la Región hemos</text>
<text x="1304.8" y="378.0" font-size="25.4" fill="#757575" font-weight="bold" font-style="italic" text-anchor="start" textLength="310.5" lengthAdjust="spacingAndGlyphs" stroke="#fff" stroke-width="0.45">acompañado a nuestros</text>
<text x="1317.4" y="412.0" font-size="25.4" fill="#757575" font-weight="bold" font-style="italic" text-anchor="start" textLength="284.6" lengthAdjust="spacingAndGlyphs" stroke="#fff" stroke-width="0.45">clientes de diferentes</text>
<text x="1275.7" y="445.0" font-size="25.4" fill="#757575" font-weight="bold" font-style="italic" text-anchor="start" textLength="367.9" lengthAdjust="spacingAndGlyphs" stroke="#fff" stroke-width="0.45">sectores en el cumplimiento</text>
<text x="1328.5" y="478.6" font-size="25.4" fill="#757575" font-weight="bold" font-style="italic" text-anchor="start" textLength="262.4" lengthAdjust="spacingAndGlyphs" stroke="#fff" stroke-width="0.45">de sus objetivos de:</text>
<text x="1308.7" y="511.5" font-size="25.4" fill="#757575" font-weight="bold" font-style="italic" text-anchor="start" textLength="300.2" lengthAdjust="spacingAndGlyphs" stroke="#fff" stroke-width="0.45">Crecimiento en Ventas,</text>
<text x="1268.5" y="545.5" font-size="25.4" fill="#757575" font-weight="bold" font-style="italic" text-anchor="start" textLength="382.8" lengthAdjust="spacingAndGlyphs" stroke="#fff" stroke-width="0.45">Optimización de Operaciones</text>
<text x="1325.9" y="579.0" font-size="25.4" fill="#757575" font-weight="bold" font-style="italic" text-anchor="start" textLength="268.8" lengthAdjust="spacingAndGlyphs" stroke="#fff" stroke-width="0.45">y Rentabilización de</text>
<text x="1390.2" y="611.9" font-size="25.4" fill="#757575" font-weight="bold" font-style="italic" text-anchor="start" textLength="137.6" lengthAdjust="spacingAndGlyphs" stroke="#fff" stroke-width="0.45">Negocios”.</text>
</svg></body></html>
